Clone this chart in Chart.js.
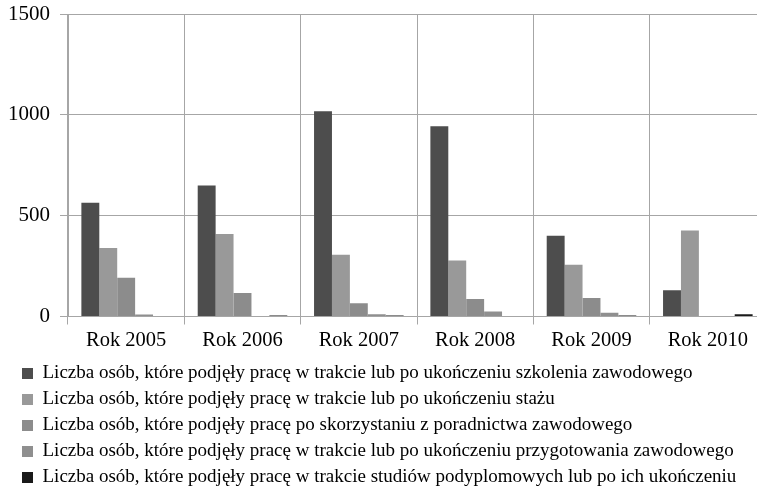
<!DOCTYPE html>
<html>
<head>
<meta charset="utf-8">
<script src="https://cdn.jsdelivr.net/npm/chart.js@4.4.0/dist/chart.umd.min.js"></script>
<style>
  html, body { margin: 0; padding: 0; background: #fff; overflow: hidden; }
  .chart-cnt { position: relative; width: 766px; height: 497px; }
</style>
</head>
<body>
<div class="chart-cnt"><canvas id="myChart"></canvas></div>
<script>
// categories and series
const years = ['Rok 2005', 'Rok 2006', 'Rok 2007', 'Rok 2008', 'Rok 2009', 'Rok 2010'];
const yTicks = [0, 500, 1000, 1500];

const szkolenie = [564, 650, 1018, 944, 401, 130];
const staz = [340, 409, 306, 278, 257, 427];
const poradnictwo = [192, 117, 66, 87, 92, 0];
const przygotowanie = [10, 3, 11, 25, 18, 0];
const studia = [0, 5, 5, 0, 5, 11];

const labels = [
  'Liczba osób, które podjęły pracę w trakcie lub po ukończeniu szkolenia zawodowego',
  'Liczba osób, które podjęły pracę w trakcie lub po ukończeniu stażu',
  'Liczba osób, które podjęły pracę po skorzystaniu z poradnictwa zawodowego',
  'Liczba osób, które podjęły pracę w trakcie lub po ukończeniu przygotowania zawodowego',
  'Liczba osób, które podjęły pracę w trakcie studiów podyplomowych lub po ich ukończeniu'
];
const colors = ['#4d4d4d', '#999999', '#8c8c8c', '#8f8f8f', '#1a1a1a'];
const series = [szkolenie, staz, poradnictwo, przygotowanie, studia];

const gridColor = '#a6a6a6';
const font = 'Liberation Serif';

const ctx = document.getElementById('myChart');

// legend sits a bit right of the canvas edge, the y axis doesn't
const legendShift = {
  id: 'legendShift',
  beforeDraw(chart) {
    chart.legend.left = 15;
  }
};

new Chart(ctx, {
  type: 'bar',
  data: {
    labels: years,
    datasets: series.map((s, i) => ({
      label: labels[i],
      data: s,
      backgroundColor: colors[i],
      borderWidth: 0
    }))
  },
  plugins: [legendShift],
  options: {
    responsive: true,
    maintainAspectRatio: false,
    animation: false,
    categoryPercentage: 0.77,
    barPercentage: 1.0,
    layout: { padding: 0 },
    plugins: {
      tooltip: { enabled: false },
      legend: {
        position: 'bottom',
        align: 'start',
        labels: {
          color: '#000',
          boxWidth: 11,
          boxHeight: 11,
          padding: 7,
          font: { family: font, size: 19 }
        }
      }
    },
    scales: {
      x: {
        grid: { color: gridColor, lineWidth: 1, tickLength: 8, offset: true },
        border: { color: gridColor },
        ticks: { color: '#000', font: { family: font, size: 20.5, lineHeight: 1 }, padding: 6, maxRotation: 0 }
      },
      y: {
        min: 0,
        max: 1500,
        afterFit: (scale) => {
          scale.width = 68;
          scale.paddingTop = 14;
        },
        afterBuildTicks: (scale) => { scale.ticks = yTicks.map(v => ({ value: v })); },
        grid: { color: gridColor, lineWidth: 1, tickLength: 8 },
        border: { color: gridColor },
        ticks: {
          color: '#000',
          font: { family: font, size: 21, lineHeight: 1 },
          padding: 10,
          callback: (v) => String(v)
        }
      }
    }
  }
});
</script>
</body>
</html>
